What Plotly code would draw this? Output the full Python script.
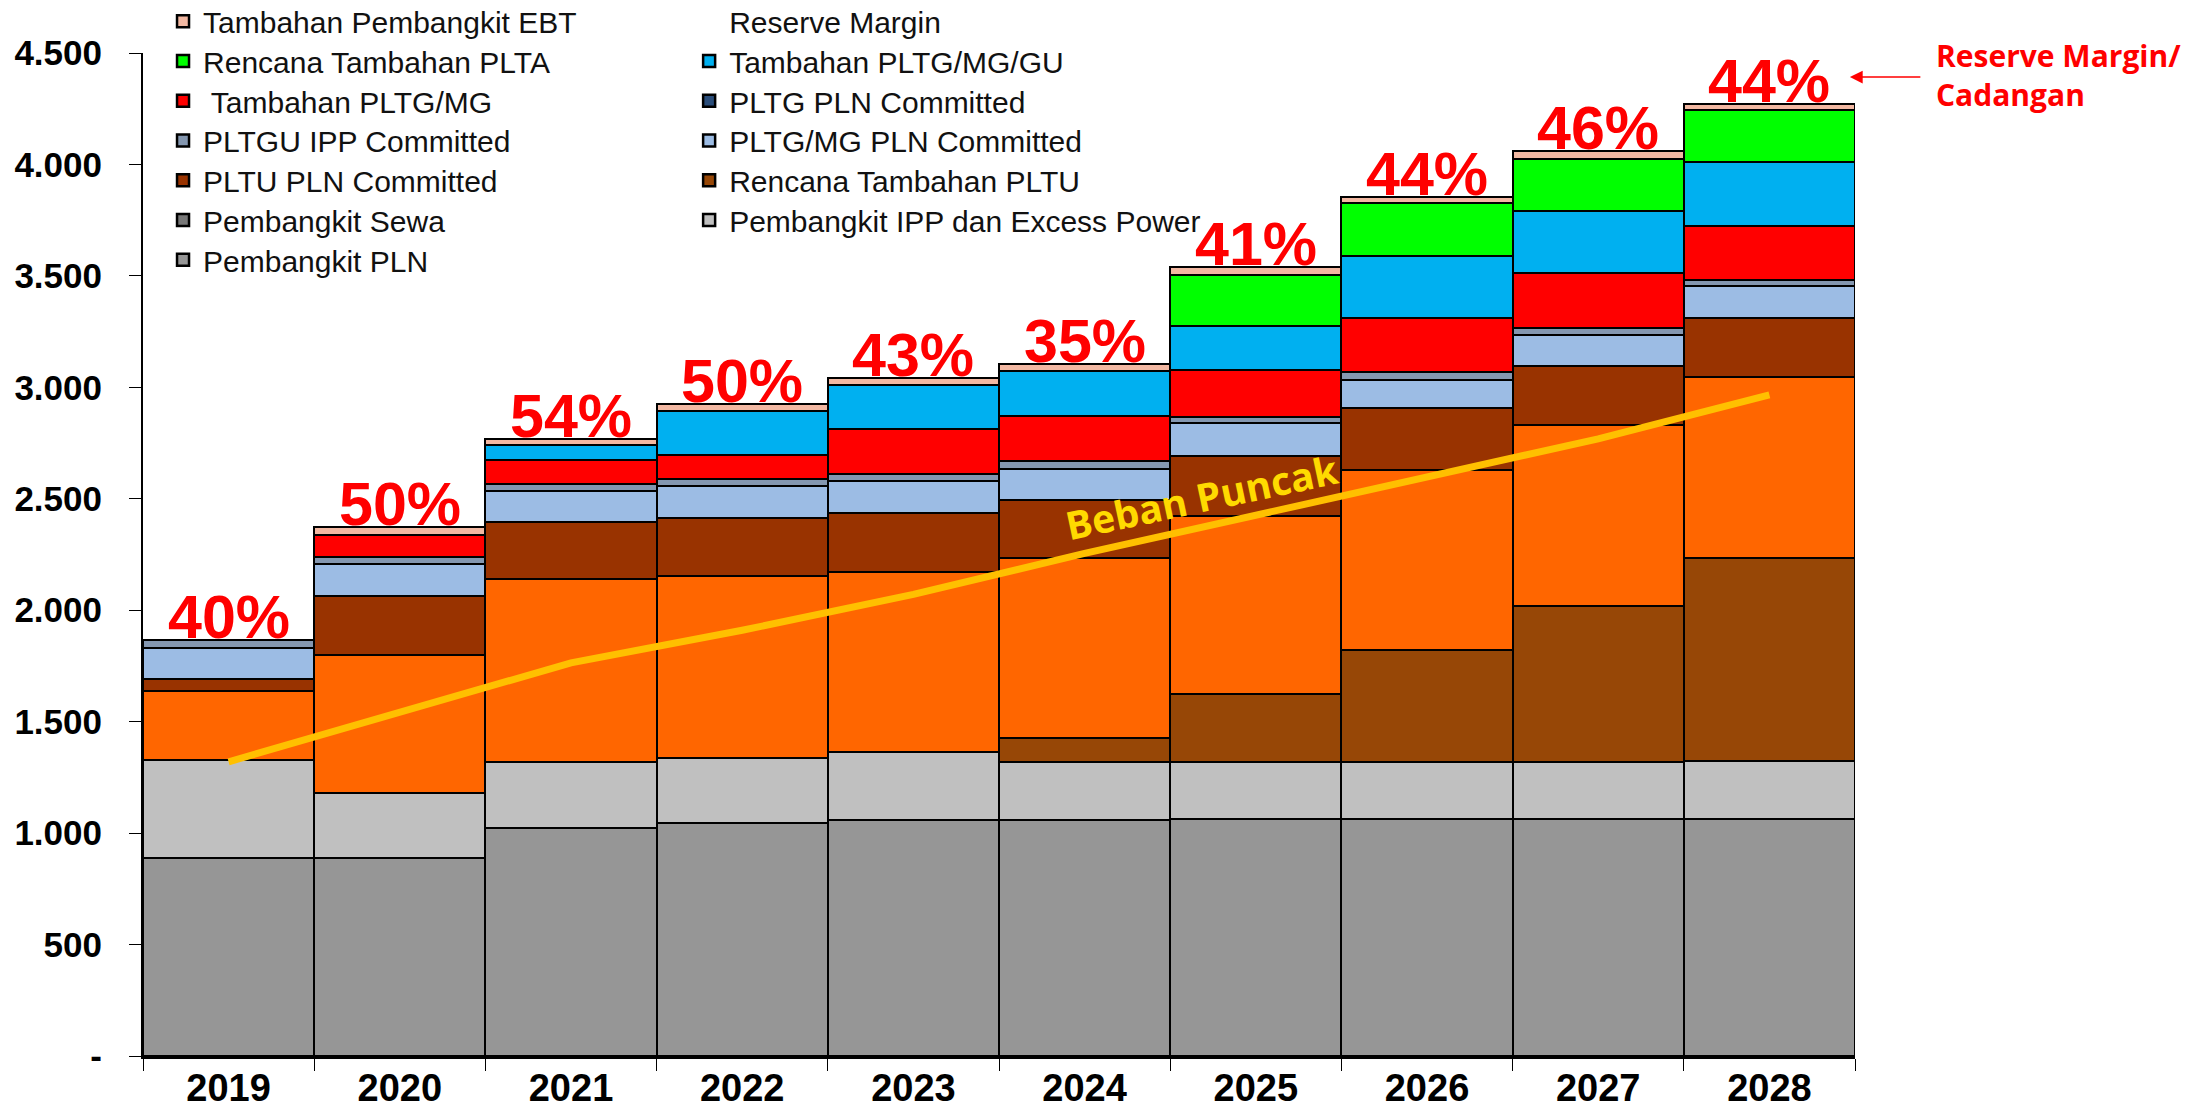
import plotly.graph_objects as go

years = ["2019", "2020", "2021", "2022", "2023", "2024", "2025", "2026", "2027", "2028"]

pembangkit_pln = [887, 887, 1023, 1044, 1059, 1059, 1065, 1065, 1065, 1064]
pembangkit_ipp = [440, 295, 297, 294, 304, 262, 255, 255, 255, 258]
pembangkit_sewa = [0, 0, 0, 0, 0, 0, 0, 0, 0, 0]
rencana_pltu = [0, 0, 0, 0, 0, 104, 303, 500, 699, 914]
pltu_ipp_committed = [311, 619, 820, 814, 809, 810, 801, 811, 810, 811]
pltu_pln_committed = [52, 264, 256, 262, 262, 261, 269, 275, 267, 264]
pltgmg_pln_committed = [142, 141, 141, 144, 147, 137, 148, 127, 141, 144]
pltgu_ipp_committed = [35, 31, 31, 30, 32, 37, 28, 37, 31, 27]
pltg_pln_committed = [0, 0, 0, 0, 0, 0, 0, 0, 0, 0]
tambahan_pltgmg = [0, 101, 108, 107, 202, 200, 207, 241, 247, 244]
tambahan_pltgmggu = [0, 0, 66, 197, 196, 204, 198, 280, 277, 285]
rencana_plta = [0, 0, 0, 0, 0, 0, 232, 236, 233, 232]
tambahan_ebt = [0, 34, 28, 32, 33, 29, 32, 28, 34, 30]

beban_puncak = [1320, 1545, 1764, 1910, 2071, 2255, 2426, 2599, 2769, 2966]
reserve_margin = ["40%", "50%", "54%", "50%", "43%", "35%", "41%", "44%", "46%", "44%"]

y_tickvals = [0, 500, 1000, 1500, 2000, 2500, 3000, 3500, 4000, 4500]
y_ticktext = ["-", "500", "1.000", "1.500", "2.000", "2.500", "3.000", "3.500", "4.000", "4.500"]

# (name, values, colour, legend column, legend row); column None = not in legend
series = [
    ("Pembangkit PLN", pembangkit_pln, "#969696", 0, 6),
    ("Pembangkit IPP dan Excess Power", pembangkit_ipp, "#C0C0C0", 1, 5),
    ("Pembangkit Sewa", pembangkit_sewa, "#777777", 0, 5),
    ("Rencana Tambahan PLTU", rencana_pltu, "#974706", 1, 4),
    ("PLTU IPP Committed", pltu_ipp_committed, "#FF6600", None, None),
    ("PLTU PLN Committed", pltu_pln_committed, "#993300", 0, 4),
    ("PLTG/MG PLN Committed", pltgmg_pln_committed, "#9CBCE4", 1, 3),
    ("PLTGU IPP Committed", pltgu_ipp_committed, "#8497B0", 0, 3),
    ("PLTG PLN Committed", pltg_pln_committed, "#2A4D7A", 1, 2),
    (" Tambahan PLTG/MG", tambahan_pltgmg, "#FF0000", 0, 2),
    ("Tambahan PLTG/MG/GU", tambahan_pltgmggu, "#00B0F0", 1, 1),
    ("Rencana Tambahan PLTA", rencana_plta, "#00FF00", 0, 1),
    ("Tambahan Pembangkit EBT", tambahan_ebt, "#F2B8A2", 0, 0),
]

legend_font = dict(family="Liberation Sans, Arial", size=30, color="#111111")
col_x = [0.0117, 0.319]
row_step = 39.75 / 1003.0
legend_layouts = {}
legend_count = [0]


def new_legend(col, row):
    legend_count[0] += 1
    key = "legend" if legend_count[0] == 1 else "legend%d" % legend_count[0]
    legend_layouts[key] = dict(
        x=col_x[col], y=1.0575 - row * row_step, xanchor="left", yanchor="top",
        orientation="v", font=legend_font, bgcolor="rgba(0,0,0,0)", itemclick=False,
    )
    return key


fig = go.Figure()
for name, vals, color, col, row in series:
    if col is None:
        fig.add_trace(go.Bar(
            x=years, y=vals, name=name, showlegend=False,
            marker=dict(color=color, line=dict(color="#000000", width=2.5)),
        ))
    else:
        fig.add_trace(go.Bar(
            x=years, y=vals, name=name, legend=new_legend(col, row),
            marker=dict(color=color, line=dict(color="#000000", width=2.5)),
        ))

# Reserve Margin legend entry (no visible symbol)
fig.add_trace(go.Scatter(
    x=years, y=[None] * len(years), name="Reserve Margin", mode="lines",
    line=dict(color="rgba(0,0,0,0)"), legend=new_legend(1, 0),
))

# Peak load line
fig.add_trace(go.Scatter(
    x=years, y=beban_puncak, name="Beban Puncak", mode="lines",
    line=dict(color="#FFC000", width=7), showlegend=False,
))

totals = [sum(s[1][i] for s in series) for i in range(len(years))]
for i, (tot, lab) in enumerate(zip(totals, reserve_margin)):
    fig.add_annotation(
        x=i, y=tot, xref="x", yref="y", text=lab, showarrow=False,
        xanchor="center", yanchor="bottom", yshift=-13,
        font=dict(family="Liberation Sans, Arial", size=61, color="#FF0000", weight="bold"),
    )

fig.add_annotation(
    x=5.684, y=2509, xref="x", yref="y", text="Beban Puncak", showarrow=False,
    textangle=-12,
    font=dict(family="Open Sans", size=39, color="#FFDA00", weight="bold"),
)

fig.add_annotation(
    x=9.47, y=4392, xref="x", yref="y", text="", showarrow=True,
    ax=72, ay=0, axref="pixel", ayref="pixel",
    arrowhead=2, arrowsize=1.6, arrowwidth=1.6, arrowcolor="#FF0000",
)
fig.add_annotation(
    x=1.046, y=0.978, xref="paper", yref="paper", xanchor="left", yanchor="middle",
    align="left", showarrow=False, text="Reserve Margin/<br>Cadangan",
    font=dict(family="Open Sans", size=30, color="#FF0000", weight="bold"),
)

fig.update_layout(
    width=2192, height=1111,
    barmode="stack", bargap=0,
    plot_bgcolor="white", paper_bgcolor="white",
    margin=dict(l=143, r=337, t=53, b=55, autoexpand=False),
    xaxis=dict(
        type="category", range=[-0.5, 9.5], showgrid=False,
        showline=True, linecolor="#000000", linewidth=3,
        ticks="outside", tickson="boundaries", ticklen=12, tickcolor="#000000",
        ticklabelstandoff=-4,
        tickfont=dict(family="Liberation Sans, Arial", size=38, color="#000000", weight="bold"),
        automargin=False,
    ),
    yaxis=dict(
        range=[0, 4500], showgrid=False, zeroline=False,
        showline=True, linecolor="#000000", linewidth=2,
        ticks="outside", ticklen=12, tickcolor="#000000",
        tickvals=y_tickvals, ticktext=y_ticktext, ticklabelstandoff=20,
        tickfont=dict(family="Liberation Sans, Arial", size=35, color="#000000", weight="bold"),
        automargin=False,
    ),
    showlegend=True,
    **legend_layouts,
)

fig.write_html(
    "out.html",
    config={"displayModeBar": False},
    post_script="document.body.style.margin='0';document.body.style.overflow='hidden';",
)
